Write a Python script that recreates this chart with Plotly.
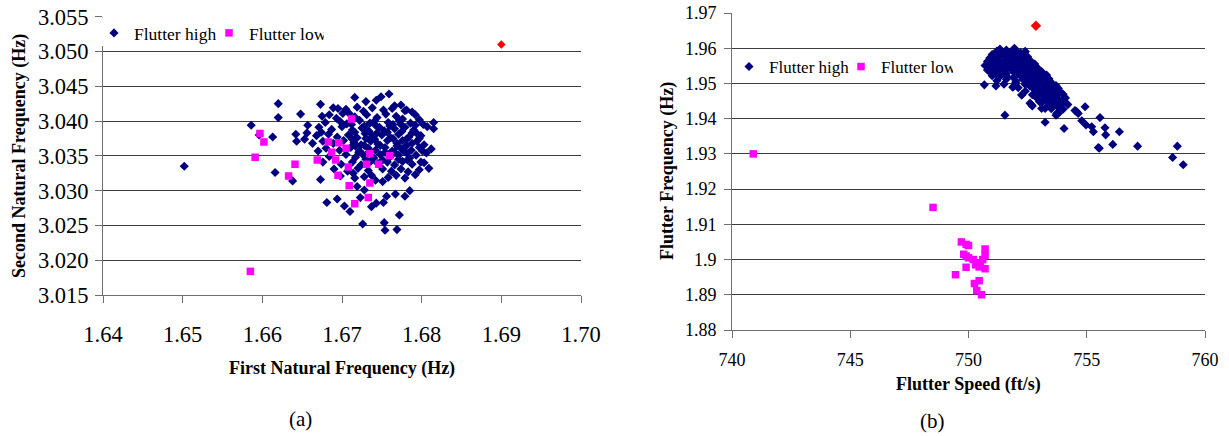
import plotly.graph_objects as go

# ---------------- data: panel (a) ----------------
a_high_x = [1.6502, 1.6596, 1.6620, 1.6620, 1.6586, 1.6613, 1.6648, 1.6657, 1.6642, 1.6643,
            1.6653, 1.6663, 1.6656, 1.6670, 1.6673, 1.6675, 1.6674, 1.6616, 1.6638, 1.6673,
            1.6681, 1.6694, 1.6703, 1.6710, 1.6726, 1.6753, 1.6754, 1.6769, 1.6772, 1.6779,
            1.6785, 1.6767, 1.6756, 1.6752, 1.6743, 1.6737, 1.6723, 1.6728, 1.6719, 1.6742,
            1.6751, 1.6728, 1.6714, 1.6809, 1.6799, 1.6792, 1.6801, 1.6806, 1.6815, 1.6815,
            1.6795, 1.6788, 1.6781, 1.6689, 1.6695, 1.6701, 1.6716, 1.6730, 1.6743, 1.6749,
            1.6759, 1.6766, 1.6774, 1.6788, 1.6792, 1.6781,
            1.6705, 1.6719, 1.6727, 1.6738, 1.6752, 1.6763, 1.6779,
            1.6684, 1.6693, 1.6709, 1.6716, 1.6731, 1.6744, 1.6755, 1.6768, 1.6776, 1.6797,
            1.6679, 1.6698, 1.6706, 1.6722, 1.6735, 1.6741, 1.6758, 1.6764, 1.6772, 1.6786, 1.6802,
            1.6671, 1.6687, 1.6700, 1.6713, 1.6725, 1.6733, 1.6747, 1.6753, 1.6766, 1.6779, 1.6790, 1.6807,
            1.6668, 1.6683, 1.6694, 1.6708, 1.6719, 1.6729, 1.6738, 1.6750, 1.6761, 1.6771, 1.6784, 1.6799,
            1.6676, 1.6689, 1.6702, 1.6715, 1.6724, 1.6736, 1.6745, 1.6757, 1.6769, 1.6776, 1.6794, 1.6803,
            1.6680, 1.6697, 1.6711, 1.6722, 1.6733, 1.6742, 1.6754, 1.6763, 1.6774, 1.6787, 1.6797, 1.6812,
            1.6684, 1.6705, 1.6717, 1.6727, 1.6740, 1.6748, 1.6760, 1.6771, 1.6785, 1.6793,
            1.6676, 1.6699, 1.6713, 1.6724, 1.6736, 1.6745, 1.6757, 1.6766, 1.6776, 1.6788, 1.6803,
            1.6690, 1.6707, 1.6720, 1.6733, 1.6751, 1.6762, 1.6774, 1.6783, 1.6797,
            1.6698, 1.6716, 1.6737, 1.6758, 1.6768, 1.6779,
            1.6712, 1.6728, 1.6742, 1.6760, 1.6774, 1.6792,
            1.6716, 1.6734, 1.6744, 1.6757, 1.6775, 1.6788,
            1.6713, 1.6730, 1.6741, 1.6764, 1.6781, 1.6797,
            1.6717, 1.6728, 1.6748, 1.6769, 1.6781,
            1.6721, 1.6734, 1.6754, 1.6766, 1.6778,
            1.6730, 1.6751, 1.6771, 1.6782]
a_high_y = [3.0335, 3.0380, 3.0425, 3.0405, 3.0394, 3.0377, 3.0410, 3.0394, 3.0381, 3.0371,
            3.0374, 3.0368, 3.0383, 3.0357, 3.0424, 3.0407, 3.0384, 3.0326, 3.0314, 3.0316,
            3.0283, 3.0288, 3.0278, 3.0270, 3.0252, 3.0254, 3.0243, 3.0244, 3.0265, 3.0292,
            3.0300, 3.0295, 3.0292, 3.0283, 3.0282, 3.0277, 3.0290, 3.0301, 3.0306, 3.0315,
            3.0313, 3.0320, 3.0325, 3.0332, 3.0341, 3.0323, 3.0357, 3.0354, 3.0398, 3.0389,
            3.0381, 3.0368, 3.0354, 3.0419, 3.0418, 3.0411, 3.0434, 3.0428, 3.0430, 3.0435,
            3.0439, 3.0422, 3.0423, 3.0413, 3.0409, 3.0416,
            3.0417, 3.0420, 3.0414, 3.0419, 3.0416, 3.0418, 3.0415,
            3.0409, 3.0404, 3.0411, 3.0406, 3.0409, 3.0405, 3.0410, 3.0407, 3.0403, 3.0402,
            3.0398, 3.0399, 3.0396, 3.0401, 3.0397, 3.0400, 3.0398, 3.0395, 3.0400, 3.0397, 3.0395,
            3.0391, 3.0388, 3.0392, 3.0387, 3.0390, 3.0386, 3.0391, 3.0386, 3.0389, 3.0391, 3.0387, 3.0392,
            3.0379, 3.0381, 3.0377, 3.0380, 3.0376, 3.0382, 3.0378, 3.0380, 3.0376, 3.0381, 3.0377, 3.0379,
            3.0371, 3.0368, 3.0372, 3.0369, 3.0366, 3.0371, 3.0367, 3.0372, 3.0368, 3.0372, 3.0371, 3.0366,
            3.0361, 3.0358, 3.0362, 3.0357, 3.0361, 3.0358, 3.0362, 3.0357, 3.0361, 3.0358, 3.0362, 3.0360,
            3.0349, 3.0352, 3.0348, 3.0351, 3.0347, 3.0352, 3.0348, 3.0351, 3.0347, 3.0351,
            3.0341, 3.0338, 3.0341, 3.0337, 3.0342, 3.0339, 3.0341, 3.0337, 3.0342, 3.0338, 3.0340,
            3.0331, 3.0328, 3.0332, 3.0329, 3.0331, 3.0328, 3.0331, 3.0327, 3.0330,
            3.0321, 3.0318, 3.0322, 3.0319, 3.0322, 3.0318,
            3.0395, 3.0393, 3.0394, 3.0393, 3.0395, 3.0394,
            3.0384, 3.0385, 3.0383, 3.0384, 3.0385, 3.0383,
            3.0374, 3.0375, 3.0374, 3.0375, 3.0374, 3.0375,
            3.0364, 3.0365, 3.0365, 3.0364, 3.0365,
            3.0355, 3.0356, 3.0355, 3.0355, 3.0356,
            3.0345, 3.0344, 3.0345, 3.0344]

a_low_x = [1.6597, 1.6602, 1.6591, 1.6633, 1.6641, 1.6585, 1.6712, 1.6683, 1.6696, 1.6687,
           1.6705, 1.6669, 1.6692, 1.6735, 1.6760, 1.6731, 1.6746, 1.6708, 1.6695, 1.6709,
           1.6735, 1.6733, 1.6716]
a_low_y = [3.0382, 3.0370, 3.0348, 3.0321, 3.0338, 3.0184, 3.0403, 3.0370, 3.0369, 3.0355,
           3.0361, 3.0344, 3.0344, 3.0353, 3.0350, 3.0338, 3.0338, 3.0334, 3.0322, 3.0307,
           3.0311, 3.0290, 3.0281]

a_ref_x = [1.690]
a_ref_y = [3.051]

# ---------------- data: panel (b) ----------------
b_high_x = [750.67, 751.16, 751.54, 753.24, 754.04, 753.70, 754.50, 754.93, 754.64, 754.79,
            754.97, 755.21, 755.28, 755.56, 755.77, 755.80, 756.38, 755.53, 756.10, 757.15,
            758.83, 758.63, 759.08, 752.60, 752.70, 752.25, 751.87, 753.14, 753.24, 753.73,
            754.01, 753.87, 753.59, 753.45, 753.31, 753.09, 751.33, 751.94, 752.39, 750.84,
            752.67, 753.09, 753.80, 754.04, 754.57, 755.49, 752.25, 751.90, 753.45,
            751.2, 751.4, 751.6, 751.8, 752.0, 752.2, 752.4,
            751.0, 751.3, 751.5, 751.7, 751.9, 752.1, 752.3, 752.5,
            750.9, 751.1, 751.3, 751.6, 751.8, 752.0, 752.2, 752.4, 752.6,
            750.8, 751.0, 751.2, 751.4, 751.6, 751.8, 752.0, 752.2, 752.4, 752.6, 752.8,
            750.7, 750.9, 751.1, 751.3, 751.5, 751.7, 751.9, 752.1, 752.3, 752.5, 752.7, 752.9,
            750.8, 751.0, 751.2, 751.4, 751.6, 751.8, 752.0, 752.2, 752.4, 752.6, 752.8, 753.0,
            750.9, 751.1, 751.4, 751.6, 751.9, 752.1, 752.3, 752.5, 752.7, 752.9, 753.1, 753.3,
            751.0, 751.3, 751.6, 751.9, 752.2, 752.4, 752.6, 752.8, 753.0, 753.2, 753.4,
            751.2, 751.6, 752.0, 752.3, 752.5, 752.7, 752.9, 753.1, 753.3, 753.5,
            751.5, 752.0, 752.4, 752.7, 752.9, 753.1, 753.3, 753.5, 753.7,
            752.1, 752.6, 752.9, 753.2, 753.4, 753.6, 753.8,
            752.4, 752.8, 753.1, 753.3, 753.5, 753.7, 753.9,
            752.7, 753.0, 753.3, 753.5, 753.7, 754.0,
            752.9, 753.2, 753.4, 753.6, 753.8, 754.1,
            753.0, 753.3, 753.5, 753.7, 753.9,
            753.4, 753.6, 753.8, 754.2,
            753.5, 753.8, 754.0]
b_high_y = [1.9496, 1.9493, 1.9410, 1.9390, 1.9372, 1.9410, 1.9423, 1.9434, 1.9415, 1.9394,
            1.9382, 1.9377, 1.9363, 1.9403, 1.9374, 1.9354, 1.9363, 1.9316, 1.9327, 1.9322,
            1.9322, 1.9290, 1.9269, 1.9444, 1.9436, 1.9467, 1.9489, 1.9448, 1.9429, 1.9415,
            1.9453, 1.9439, 1.9462, 1.9481, 1.9510, 1.9534, 1.9598, 1.9600, 1.9590, 1.9557,
            1.9439, 1.9429, 1.9415, 1.9448, 1.9420, 1.9318, 1.9467, 1.9491, 1.9448,
            1.9592, 1.9588, 1.9595, 1.9589, 1.9593, 1.9587, 1.9591,
            1.9582, 1.9578, 1.9584, 1.9579, 1.9583, 1.9577, 1.9582, 1.9576,
            1.9572, 1.9568, 1.9574, 1.9569, 1.9573, 1.9567, 1.9572, 1.9568, 1.9566,
            1.9562, 1.9558, 1.9563, 1.9559, 1.9564, 1.9557, 1.9561, 1.9558, 1.9562, 1.9557, 1.9555,
            1.9551, 1.9554, 1.9549, 1.9553, 1.9548, 1.9552, 1.9549, 1.9553, 1.9548, 1.9551, 1.9547, 1.9545,
            1.9538, 1.9543, 1.9539, 1.9544, 1.9540, 1.9543, 1.9538, 1.9542, 1.9539, 1.9543, 1.9538, 1.9536,
            1.9533, 1.9529, 1.9532, 1.9528, 1.9533, 1.9529, 1.9532, 1.9527, 1.9531, 1.9528, 1.9526, 1.9524,
            1.9522, 1.9518, 1.9521, 1.9517, 1.9521, 1.9518, 1.9522, 1.9517, 1.9515, 1.9519, 1.9513,
            1.9508, 1.9512, 1.9507, 1.9511, 1.9508, 1.9512, 1.9507, 1.9510, 1.9506, 1.9503,
            1.9498, 1.9502, 1.9497, 1.9501, 1.9497, 1.9501, 1.9496, 1.9499, 1.9494,
            1.9488, 1.9492, 1.9487, 1.9491, 1.9487, 1.9490, 1.9486,
            1.9478, 1.9482, 1.9477, 1.9481, 1.9476, 1.9480, 1.9475,
            1.9468, 1.9472, 1.9467, 1.9471, 1.9466, 1.9469,
            1.9458, 1.9462, 1.9457, 1.9461, 1.9456, 1.9459,
            1.9448, 1.9452, 1.9447, 1.9451, 1.9446,
            1.9438, 1.9442, 1.9437, 1.9440,
            1.9428, 1.9432, 1.9427]

b_low_x = [740.9, 748.5, 749.7, 749.9, 750.0, 749.8, 749.9, 750.7, 750.7, 750.6, 750.2,
           750.3, 749.9, 750.45, 750.7, 750.5, 749.45, 750.25, 750.45, 750.35, 750.55, 750.0]
b_low_y = [1.9300, 1.9148, 1.9050, 1.9043, 1.9040, 1.9015, 1.9010, 1.9030, 1.9012, 1.9000, 1.9000,
           1.8985, 1.8978, 1.8979, 1.8974, 1.8990, 1.8957, 1.8932, 1.8940, 1.8912, 1.8900, 1.9005]

b_ref_x = [752.85]
b_ref_y = [1.9664]

a_xticks = [1.64, 1.65, 1.66, 1.67, 1.68, 1.69, 1.70]
a_yticks = [3.015, 3.020, 3.025, 3.030, 3.035, 3.040, 3.045, 3.050, 3.055]
b_xticks = [740, 745, 750, 755, 760]
b_yticks = [1.88, 1.89, 1.90, 1.91, 1.92, 1.93, 1.94, 1.95, 1.96, 1.97]
b_yticktext = ["1.88", "1.89", "1.9", "1.91", "1.92", "1.93", "1.94", "1.95", "1.96", "1.97"]

series_names = ["Flutter high", "Flutter low"]

# ---------------- layout helpers ----------------
W, H = 1229, 436
def px(x):
    return x / W
def py(y):
    return 1 - y / H

NAVY = "#000080"
PINK = "#FF00FF"
RED = "#FF0000"
GRID = "#3c3c3c"
AXC = "#6e6e6e"
SERIF = "Liberation Serif, Times New Roman, serif"

fig = go.Figure()
fig.add_trace(go.Scatter(x=a_high_x, y=a_high_y, mode="markers", name=series_names[0],
                         marker=dict(symbol="diamond", size=7, color=NAVY, line=dict(width=0)),
                         xaxis="x", yaxis="y", legend="legend"))
fig.add_trace(go.Scatter(x=a_low_x, y=a_low_y, mode="markers", name=series_names[1],
                         marker=dict(symbol="square", size=7.5, color=PINK, line=dict(width=0)),
                         xaxis="x", yaxis="y", legend="legend"))
fig.add_trace(go.Scatter(x=a_ref_x, y=a_ref_y, mode="markers", showlegend=False,
                         marker=dict(symbol="diamond", size=6.5, color=RED, line=dict(width=0)),
                         xaxis="x", yaxis="y"))
fig.add_trace(go.Scatter(x=b_high_x, y=b_high_y, mode="markers", name=series_names[0],
                         marker=dict(symbol="diamond", size=7, color=NAVY, line=dict(width=0)),
                         xaxis="x2", yaxis="y2", legend="legend2"))
fig.add_trace(go.Scatter(x=b_low_x, y=b_low_y, mode="markers", name=series_names[1],
                         marker=dict(symbol="square", size=7.5, color=PINK, line=dict(width=0)),
                         xaxis="x2", yaxis="y2", legend="legend2"))
fig.add_trace(go.Scatter(x=b_ref_x, y=b_ref_y, mode="markers", showlegend=False,
                         marker=dict(symbol="diamond", size=8, color=RED, line=dict(width=0)),
                         xaxis="x2", yaxis="y2"))

def axis_common(tickfont_size, standoff):
    return dict(showline=True, linecolor=AXC, linewidth=1, ticks="outside", ticklen=7,
                tickcolor=AXC, tickwidth=1, zeroline=False, automargin=False,
                ticklabelstandoff=standoff,
                tickfont=dict(family=SERIF, size=tickfont_size, color="black"))

xa = axis_common(22.5, 12)
xa.update(domain=[px(103), px(581)], range=[1.64, 1.70], tickvals=a_xticks, tickformat=".2f",
          showgrid=False, anchor="y")
ya = axis_common(22.5, 2)
ya.update(domain=[py(295), py(16.7)], range=[3.015, 3.055], tickvals=a_yticks, tickformat=".3f",
          showgrid=True, gridcolor=GRID, gridwidth=1, anchor="x")
xb = axis_common(18, 6)
xb.update(domain=[px(732), px(1205)], range=[740, 760], tickvals=b_xticks, showgrid=False, anchor="y2")
yb = axis_common(18, 4)
yb.update(domain=[py(330), py(13)], range=[1.88, 1.97], tickvals=b_yticks, ticktext=b_yticktext,
          showgrid=True, gridcolor=GRID, gridwidth=1, anchor="x2")

def legend_at(sx, sy, size, entryw):
    return dict(x=px(sx - 20), y=py(sy), xanchor="left", yanchor="middle", orientation="h",
                xref="container", yref="container",
                bgcolor="rgba(0,0,0,0)", borderwidth=0,
                font=dict(family=SERIF, size=size, color="black"),
                itemwidth=30, entrywidth=entryw, entrywidthmode="pixels")

title_font = dict(family=SERIF, size=18, color="black")
annotations = [
    dict(text="<b>First Natural Frequency (Hz)</b>", x=px(342), y=py(368), xref="paper", yref="paper",
         showarrow=False, font=title_font, xanchor="center", yanchor="middle"),
    dict(text="<b>Second Natural Frequency (Hz)</b>", x=px(19), y=py(156), xref="paper", yref="paper",
         showarrow=False, font=title_font, textangle=-90, xanchor="center", yanchor="middle"),
    dict(text="<b>Flutter Speed (ft/s)</b>", x=px(968), y=py(384), xref="paper", yref="paper",
         showarrow=False, font=title_font, xanchor="center", yanchor="middle"),
    dict(text="<b>Flutter Frequency (Hz)</b>", x=px(668), y=py(171), xref="paper", yref="paper",
         showarrow=False, font=title_font, textangle=-90, xanchor="center", yanchor="middle"),
    dict(text="(a)", x=px(300), y=py(419), xref="paper", yref="paper", showarrow=False,
         font=dict(family=SERIF, size=21, color="black"), xanchor="center", yanchor="middle"),
    dict(text="(b)", x=px(932), y=py(421), xref="paper", yref="paper", showarrow=False,
         font=dict(family=SERIF, size=21, color="black"), xanchor="center", yanchor="middle"),
]

# white legend backing box of panel (a) (covers the top of the value axis line, as in the original)
shapes = [dict(type="rect", xref="paper", yref="paper", x0=px(98), x1=px(330), y0=py(46), y1=py(17.6),
               fillcolor="white", line=dict(width=0), layer="above")]

fig.update_layout(
    width=W, height=H, margin=dict(l=0, r=0, t=0, b=0, autoexpand=False),
    paper_bgcolor="white", plot_bgcolor="white",
    xaxis=xa, yaxis=ya, xaxis2=xb, yaxis2=yb,
    legend=legend_at(114, 33, 17.5, 70),
    legend2=legend_at(749, 67, 17, 67),
    annotations=annotations, shapes=shapes,
    font=dict(family=SERIF, color="black"),
)

fig.write_html("out.html", config={"displayModeBar": False, "staticPlot": True},
               post_script="document.body.style.margin='0px';document.body.style.overflow='hidden';")
